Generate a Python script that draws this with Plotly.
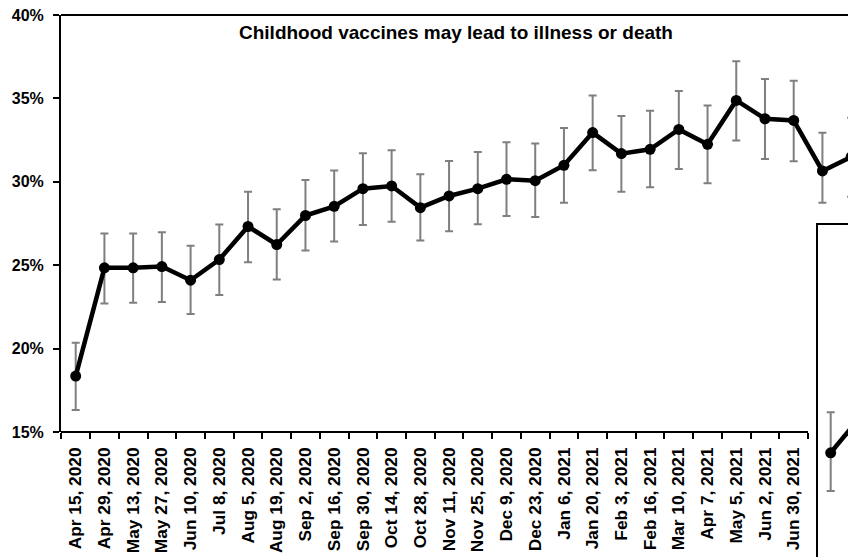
import plotly.graph_objects as go

# ---- data ----
dates = ["Apr 15, 2020", "Apr 29, 2020", "May 13, 2020", "May 27, 2020", "Jun 10, 2020",
         "Jul 8, 2020", "Aug 5, 2020", "Aug 19, 2020", "Sep 2, 2020", "Sep 16, 2020",
         "Sep 30, 2020", "Oct 14, 2020", "Oct 28, 2020", "Nov 11, 2020", "Nov 25, 2020",
         "Dec 9, 2020", "Dec 23, 2020", "Jan 6, 2021", "Jan 20, 2021", "Feb 3, 2021",
         "Feb 16, 2021", "Mar 10, 2021", "Apr 7, 2021", "May 5, 2021", "Jun 2, 2021",
         "Jun 30, 2021", "Jul 28, 2021", "Aug 25, 2021"]
n_labelled = 26  # the last two labels are hidden behind the inset
pct = [18.35, 24.84, 24.84, 24.92, 24.10, 25.34, 27.32, 26.24, 27.98, 28.53,
       29.59, 29.75, 28.45, 29.15, 29.59, 30.15, 30.07, 30.99, 32.95, 31.69,
       31.95, 33.14, 32.25, 34.88, 33.78, 33.68, 30.65, 31.49]
ci_high = [20.35, 26.90, 26.90, 26.98, 26.16, 27.44, 29.41, 28.35, 30.11, 30.67,
           31.71, 31.89, 30.45, 31.25, 31.78, 32.37, 32.29, 33.22, 35.18, 33.95,
           34.26, 35.44, 34.58, 37.23, 36.16, 36.06, 32.94, 33.84]
ci_low = [16.32, 22.71, 22.75, 22.80, 22.07, 23.22, 25.18, 24.14, 25.88, 26.42,
          27.41, 27.60, 26.48, 27.04, 27.46, 27.95, 27.89, 28.75, 30.69, 29.41,
          29.67, 30.77, 29.91, 32.47, 31.37, 31.23, 28.75, 29.11]
y_ticks = [15, 20, 25, 30, 35, 40]
title_text = "Childhood vaccines may lead to illness or death"

# partially visible inset chart (bottom-right)
inset_x = [0, 1]
inset_pct = [11.26, 13.23]
inset_high = [13.69, 15.37]
inset_low = [8.96, 10.87]

FONT = "Liberation Sans, Arial, sans-serif"
# the page body has an 8px margin, so the figure is 8px smaller and shifted
OFF = 8
W, H = 856 - OFF, 557 - OFF
ML, MT = 61 - OFF, 15 - OFF
PW, PH = W - ML, H - MT

def px_x(p):  # reference pixel -> paper x
    return (p - 61) / PW

def px_y(p):  # reference pixel -> paper y
    return (557 - p) / PH

idx = list(range(len(dates)))
err_plus = [h - v for h, v in zip(ci_high, pct)]
err_minus = [v - l for l, v in zip(ci_low, pct)]
in_plus = [h - v for h, v in zip(inset_high, inset_pct)]
in_minus = [v - l for l, v in zip(inset_low, inset_pct)]

fig = go.Figure()
fig.add_trace(go.Scatter(
    x=idx, y=pct, mode="lines+markers", text=dates,
    line=dict(color="black", width=4.5),
    marker=dict(color="black", size=11),
    error_y=dict(type="data", symmetric=False, array=err_plus, arrayminus=err_minus,
                 color="#7f7f7f", thickness=2, width=4),
    cliponaxis=False, showlegend=False, xaxis="x", yaxis="y"))

fig.add_trace(go.Scatter(
    x=inset_x, y=inset_pct, mode="lines+markers",
    line=dict(color="black", width=4.5),
    marker=dict(color="black", size=11),
    error_y=dict(type="data", symmetric=False, array=in_plus, arrayminus=in_minus,
                 color="#7f7f7f", thickness=2, width=4),
    cliponaxis=False, showlegend=False, xaxis="x2", yaxis="y2"))

sp = 28.72
r0 = -(75.7 - 61) / sp
r1 = r0 + PW / sp
axis_end = px_x(61 + (n_labelled - 0.5 - r0) * sp)

fig.update_layout(
    width=W, height=H,
    margin=dict(l=ML, r=0, t=MT, b=0, pad=0, autoexpand=False),
    paper_bgcolor="white", plot_bgcolor="rgba(0,0,0,0)",
    font=dict(family=FONT, color="black"),
    xaxis=dict(domain=[0, 1], range=[r0, r1], automargin=False,
               tickvals=idx[:n_labelled], ticktext=dates[:n_labelled],
               showline=False, showgrid=False, zeroline=False,
               ticks="", ticklabelstandoff=11, tickangle=-90,
               ticklabeloverflow="allow",
               tickfont=dict(family=FONT, size=17.3, color="black", weight="bold"),
               minor=dict(tickvals=[i - 0.5 for i in range(n_labelled + 1)],
                          ticks="outside", ticklen=6, tickwidth=2, tickcolor="black",
                          showgrid=False),
               anchor="y"),
    yaxis=dict(domain=[px_y(432), 1], range=[15, 40], tickvals=y_ticks,
               ticktext=[f"{v}%" for v in y_ticks], automargin=False,
               showline=True, linecolor="black", linewidth=2, showgrid=False,
               zeroline=False, ticks="outside", ticklen=6, tickwidth=2, tickcolor="black",
               ticklabelstandoff=6, ticklabeloverflow="allow",
               tickfont=dict(family=FONT, size=16, color="black", weight="bold"),
               anchor="x"),
    xaxis2=dict(domain=[px_x(817), 1], range=[-0.507, 0.937], visible=False,
                automargin=False, anchor="y2"),
    yaxis2=dict(domain=[0, px_y(224)], range=[5, 25], visible=False,
                automargin=False, anchor="x2"),
    shapes=[
        # top frame line
        dict(type="line", xref="paper", yref="paper", x0=0, x1=1.05, y0=1, y1=1,
             line=dict(color="black", width=2), layer="above"),
        # x axis line (ends where the inset's white margin begins)
        dict(type="line", xref="paper", yref="paper", x0=0, x1=axis_end,
             y0=px_y(432), y1=px_y(432), line=dict(color="black", width=2),
             layer="above"),
        # inset frame
        dict(type="rect", xref="paper", yref="paper", x0=px_x(817), x1=1.1,
             y0=-0.1, y1=px_y(224), line=dict(color="black", width=2),
             fillcolor="rgba(0,0,0,0)", layer="above"),
    ],
    annotations=[dict(text=title_text, xref="paper", yref="paper",
                      x=px_x(456), y=px_y(32), xanchor="center", yanchor="middle",
                      showarrow=False,
                      font=dict(family=FONT, size=19, color="black", weight="bold"))],
)

fig.write_html("out.html")
